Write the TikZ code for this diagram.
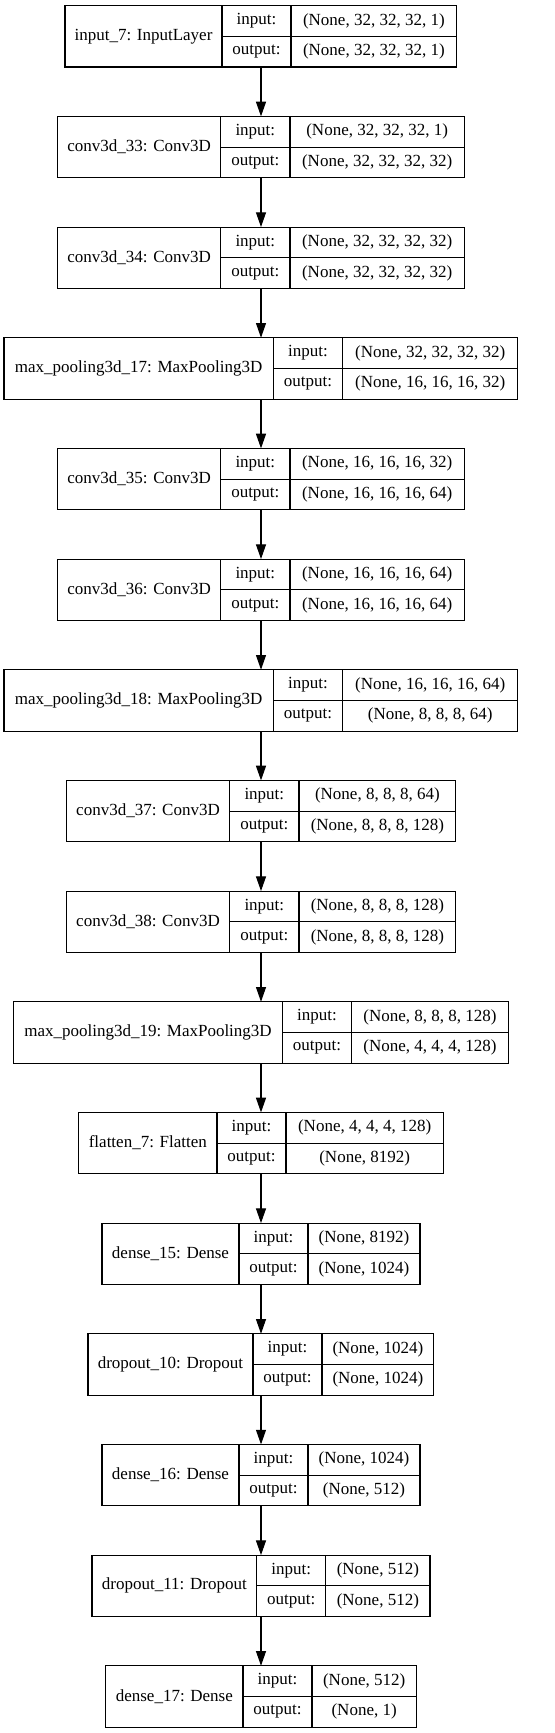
\documentclass[tikz,border=0pt]{standalone}
\usepackage{fontspec}
\setmainfont{Liberation Serif}
\usetikzlibrary{arrows.meta}
\begin{document}
\begin{tikzpicture}[x=0.75pt,y=-0.75pt,
    cell/.style={draw,line width=0.8pt,inner sep=0pt,outer sep=0pt,anchor=north west,
      font=\fontsize{12.75}{15}\selectfont},
    flow/.style={-{Triangle[length=11pt,width=7.5pt]},line width=0.8pt}]
  \useasboundingbox (0,0) rectangle (555,1733);
  \coordinate (spine) at (261,0);
  \foreach \i/\xa/\xb/\xc/\xd/\nm/\vin/\vout in {
      1/65/222/291/456.7/{input\_7: InputLayer}/{(None, 32, 32, 32, 1)}/{(None, 32, 32, 32, 1)},
      2/57.7/220.7/290/464.3/{conv3d\_33: Conv3D}/{(None, 32, 32, 32, 1)}/{(None, 32, 32, 32, 32)},
      3/57.7/220.7/290/464.3/{conv3d\_34: Conv3D}/{(None, 32, 32, 32, 32)}/{(None, 32, 32, 32, 32)},
      4/4/273.3/342.7/517.7/{max\_pooling3d\_17: MaxPooling3D}/{(None, 32, 32, 32, 32)}/{(None, 16, 16, 16, 32)},
      5/57.7/220.7/290/464.3/{conv3d\_35: Conv3D}/{(None, 16, 16, 16, 32)}/{(None, 16, 16, 16, 64)},
      6/57.7/220.7/290/464.3/{conv3d\_36: Conv3D}/{(None, 16, 16, 16, 64)}/{(None, 16, 16, 16, 64)},
      7/4/273.3/342.7/517.7/{max\_pooling3d\_18: MaxPooling3D}/{(None, 16, 16, 16, 64)}/{(None, 8, 8, 8, 64)},
      8/66.3/229.7/299/455.7/{conv3d\_37: Conv3D}/{(None, 8, 8, 8, 64)}/{(None, 8, 8, 8, 128)},
      9/66.3/229.7/299/455.7/{conv3d\_38: Conv3D}/{(None, 8, 8, 8, 128)}/{(None, 8, 8, 8, 128)},
      10/13.7/282.3/351.7/508.3/{max\_pooling3d\_19: MaxPooling3D}/{(None, 8, 8, 8, 128)}/{(None, 4, 4, 4, 128)},
      11/78.7/217/286/443.3/{flatten\_7: Flatten}/{(None, 4, 4, 4, 128)}/{(None, 8192)},
      12/102/239/308/420/{dense\_15: Dense}/{(None, 8192)}/{(None, 1024)},
      13/88/253/322/433.7/{dropout\_10: Dropout}/{(None, 1024)}/{(None, 1024)},
      14/102/239/308/420/{dense\_16: Dense}/{(None, 1024)}/{(None, 512)},
      15/92/256.7/325.7/430/{dropout\_11: Dropout}/{(None, 512)}/{(None, 512)},
      16/105.7/243/312/416.3/{dense\_17: Dense}/{(None, 512)}/{(None, 1)}}{
    \pgfmathsetmacro\yt{5.7+(\i-1)*110.67}
    \node[cell,minimum width={(\xb-\xa)*0.75pt},minimum height=46pt] (L\i) at (\xa,\yt) {\nm};
    \node[cell,minimum width={(\xc-\xb)*0.75pt},minimum height=23pt] (I\i) at (L\i.north east) {input:};
    \node[cell,minimum width={(\xc-\xb)*0.75pt},minimum height=23pt] (O\i) at (I\i.south west) {output:};
    \node[cell,minimum width={(\xd-\xc)*0.75pt},minimum height=23pt] (VI\i) at (I\i.north east) {\vin};
    \node[cell,minimum width={(\xd-\xc)*0.75pt},minimum height=23pt] (VO\i) at (O\i.north east) {\vout};
  }
  \foreach \i [evaluate=\i as \j using int(\i+1)] in {1,...,15}
    \draw[flow] (L\i.south -| spine) -- (L\j.north -| spine);
\end{tikzpicture}
\end{document}
